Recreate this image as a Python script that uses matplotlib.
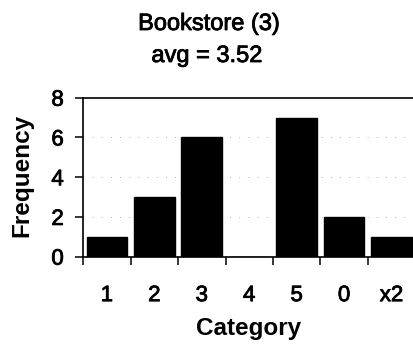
import matplotlib
matplotlib.use("Agg")
import matplotlib.pyplot as plt
import matplotlib.patheffects as pe
import numpy as np

categories = ["1", "2", "3", "4", "5", "0", "x2"]
frequency = [1, 3, 6, 0, 7, 2, 1]
title_line1 = "Bookstore (3)"
title_line2 = "avg = 3.52"
y_ticks = [0, 2, 4, 6, 8]

plt.rcParams["font.family"] = ["Liberation Sans", "DejaVu Sans"]

# slightly heavier strokes for the regular-weight text
heavy = [pe.withStroke(linewidth=0.6, foreground="black")]

fig = plt.figure(figsize=(4.14, 3.54), dpi=100)
ax = fig.add_axes([0.201, 0.275, 0.802, 0.449])

x = np.arange(len(categories))
ax.bar(x, frequency, width=0.86, color="black", edgecolor="black", zorder=3)

ax.set_xlim(-0.5, len(categories) - 0.5)
ax.set_ylim(0, 8)

# faint dotted gridlines
for yv in [2, 4, 6]:
    ax.axhline(yv, color="0.6", lw=0.6, ls=(0, (1, 10)), zorder=1)

# boundary ticks (unlabelled) and centred category labels
ax.set_xticks(np.arange(-0.5, len(categories) - 0.5 + 1e-9, 1.0))
ax.set_xticklabels([])
ax.set_xticks(x, minor=True)
ax.set_xticklabels(categories, minor=True, fontsize=16)
ax.tick_params(axis="x", which="major", direction="out", length=5.5, width=1.1)
ax.tick_params(axis="x", which="minor", length=0, pad=20.5)

ax.set_yticks(y_ticks)
ax.set_yticklabels([str(v) for v in y_ticks], fontsize=16)
ax.tick_params(axis="y", direction="out", length=6, width=1.1, pad=8)

for lbl in ax.get_xticklabels(minor=True) + ax.get_yticklabels():
    lbl.set_path_effects(heavy)

for side in ["left", "bottom", "top"]:
    ax.spines[side].set_linewidth(1.2)
ax.spines["right"].set_visible(False)

ax.set_xlabel("Category", fontsize=17.5, fontweight="bold")
ax.xaxis.set_label_coords(0.497, -0.45)
ax.xaxis.label.set_va("center")
ax.set_ylabel("Frequency", fontsize=17.5, fontweight="bold")
ax.yaxis.set_label_coords(-0.185, 0.51)
ax.yaxis.label.set_va("center")

fig.text(0.505, 1 - 30 / 354, title_line1, ha="center", va="baseline",
         fontsize=17, path_effects=heavy)
fig.text(0.5, 1 - 62 / 354, title_line2, ha="center", va="baseline",
         fontsize=17, path_effects=heavy)

fig.savefig("out.png", dpi=100)
